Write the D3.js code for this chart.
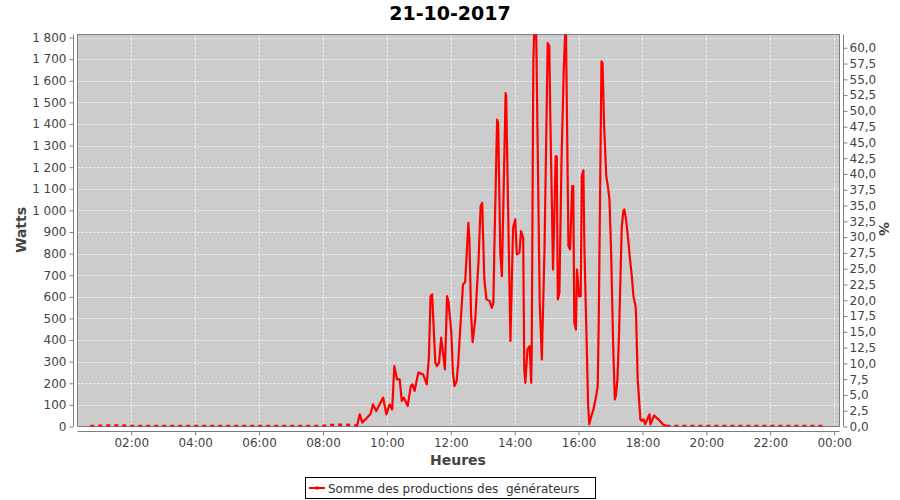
<!DOCTYPE html>
<html><head><meta charset="utf-8">
<script src="https://cdn.jsdelivr.net/npm/d3@7"></script>
<style>html,body{margin:0;padding:0;background:#fff;}svg{display:block;font-family:"DejaVu Sans",sans-serif;}</style>
</head><body>
<svg id="chart" width="900" height="500"></svg>
<script>
const title = "21-10-2017";
const seriesName = "Somme des productions des  générateurs";
const times = ["00:43","01:10","01:30","01:45","02:00","03:00","04:00","05:00","06:00","07:00","08:00","08:15","08:40","09:00",
"09:04","09:09","09:14","09:23","09:29","09:34","09:40","09:51","09:53","09:59","10:05","10:10","10:14","10:19","10:24","10:28","10:32","10:39","10:45","10:48","10:52","10:59","11:08","11:15","11:19","11:22","11:25","11:31","11:34","11:38","11:42","11:49","11:53","11:56",
"12:01","12:04","12:07","12:11","12:14","12:18","12:23","12:27","12:33","12:35","12:38","12:41","12:46","12:49","12:52","12:56","12:59","13:03","13:07","13:13","13:17","13:20","13:22","13:27","13:29","13:33","13:36","13:43","13:44","13:52","13:57",
"14:01","14:04","14:09","14:12","14:16","14:18","14:20","14:24","14:28","14:31","14:32","14:35","14:38","14:40","14:47","14:51","14:56","15:02","15:05","15:07","15:12","15:17","15:19","15:21","15:24","15:28","15:32","15:36","15:41","15:44","15:48","15:50","15:52","15:55","15:57",
"16:01","16:04","16:06","16:09","16:11","16:18","16:20","16:24","16:28","16:33","16:36","16:38","16:41","16:43","16:45","16:48","16:52","16:55","16:58","17:01","17:05","17:08","17:10","17:13","17:16","17:21","17:24","17:26","17:29","17:32","17:36","17:40","17:43","17:47","17:48","17:51","17:54","17:56","17:59",
"18:02","18:05","18:13","18:15","18:22","18:26","18:30","18:38","18:45","20:00","22:00","23:43"];
const watts = [0,2,3,2,0,0,0,0,0,0,0,5,6,3,
0,54,16,39,54,100,69,123,131,54,100,77,277,216,216,116,131,92,185,193,162,247,239,193,324,601,609,293,277,293,409,262,601,570,
432,247,185,208,293,462,655,666,940,863,524,388,493,632,755,1017,1033,678,586,578,547,570,840,1418,1403,802,693,1541,1526,393,917,
956,794,802,902,871,262,200,355,370,200,339,1680,1950,1900,570,308,817,1772,1757,1418,724,1248,1248,586,617,1233,1634,1900,832,817,1110,1110,478,447,724,
600,601,1156,1183,817,92,8,46,77,139,185,509,1218,1687,1680,1387,1156,1110,1048,817,370,123,139,216,432,917,994,1002,956,894,786,693,601,555,509,216,108,31,23,
31,8,54,8,49,39,31,8,0,0,0,0];
const leftTicks = [0,100,200,300,400,500,600,700,800,900,1000,1100,1200,1300,1400,1500,1600,1700,1800];
const rightTicks = [0,2.5,5,7.5,10,12.5,15,17.5,20,22.5,25,27.5,30,32.5,35,37.5,40,42.5,45,47.5,50,52.5,55,57.5,60];
const xLabel = "Heures", yLabel = "Watts", y2Label = "%";

const svg = d3.select("#chart");
const L = 77.5, R = 839.5, T = 34.5, B = 426.5;
const parse = s => { const [h,m] = s.split(":").map(Number); return new Date(2017,9,21,h,m); };
const data = times.map((t,i)=>({t:parse(t), v:watts[i]}));

const x = d3.scaleTime().domain([new Date(2017,9,21,0,19), new Date(2017,9,22,0,10)]).range([L,R]);
const y = d3.scaleLinear().domain([0,1814]).range([B,T]);
const y2 = d3.scaleLinear().domain([0,62.1]).range([B,T]);

svg.append("text").attr("x",450).attr("y",20).attr("text-anchor","middle")
  .attr("font-size",19).attr("font-weight","bold").attr("fill","#000").text(title);

svg.append("rect").attr("x",L).attr("y",T).attr("width",R-L).attr("height",B-T).attr("fill","#cccccc");

const xTicks = d3.timeHour.every(2).range(new Date(2017,9,21,1,0), new Date(2017,9,22,0,30));
// grid
svg.append("g").selectAll("line").data(leftTicks.slice(1)).join("line")
  .attr("x1",L).attr("x2",R).attr("y1",d=>Math.round(y(d))+0.5).attr("y2",d=>Math.round(y(d))+0.5)
  .attr("stroke","#fff").attr("stroke-width",0.8).attr("stroke-dasharray","2,2");
svg.append("g").selectAll("line").data(xTicks).join("line")
  .attr("x1",d=>Math.round(x(d))+0.5).attr("x2",d=>Math.round(x(d))+0.5).attr("y1",T).attr("y2",B)
  .attr("stroke","#fff").attr("stroke-width",0.8).attr("stroke-dasharray","2,2");

svg.append("rect").attr("x",L).attr("y",T).attr("width",R-L).attr("height",B-T).attr("fill","none").attr("stroke","#808080").attr("stroke-width",1);

// clip
svg.append("clipPath").attr("id","clip").append("rect").attr("x",L).attr("y",T).attr("width",R-L).attr("height",B-T);
const line = d3.line().x(d=>x(d.t)).y(d=>y(d.v)-0.5);
const dayStart = times.indexOf("09:00"), dayEnd = times.indexOf("18:45");
const g = svg.append("g").attr("clip-path","url(#clip)");
g.append("path").datum(data.slice(0,dayStart+1)).attr("d",line).attr("fill","none").attr("stroke","#ff0000").attr("stroke-width",2.4).attr("stroke-dasharray","4,4");
g.append("path").datum(data.slice(dayEnd)).attr("d",line).attr("fill","none").attr("stroke","#ff0000").attr("stroke-width",2.4).attr("stroke-dasharray","4,4");
g.append("path").datum(data.slice(dayStart,dayEnd+1)).attr("d",line).attr("fill","none").attr("stroke","#ff0000").attr("stroke-width",2.2).attr("stroke-linejoin","round");

// axes
const axisColor = "#808080", labelColor = "#444";
const ax = svg.append("g").attr("transform","translate(0,431.5)").call(d3.axisBottom(x).tickValues(xTicks).tickFormat(d3.timeFormat("%H:%M")).tickSize(4).tickPadding(3));
ax.select(".domain").attr("d",`M${L},0H${R}`);
const ay = svg.append("g").attr("transform","translate(73.5,0)").call(d3.axisLeft(y).tickValues(leftTicks).tickFormat(d=>d3.format(",")(d).replace(","," ")).tickSize(4).tickPadding(3));
ay.select(".domain").attr("d",`M0,${T}V${B}`);
const ay2 = svg.append("g").attr("transform","translate(843.5,0)").call(d3.axisRight(y2).tickValues(rightTicks).tickFormat(d=>d3.format(".1f")(d).replace(".",",")).tickSize(4).tickPadding(2));
ay2.select(".domain").attr("d",`M0,${T}V${B}`);
[ax,ay,ay2].forEach(a=>{
  a.selectAll("path,line").attr("stroke",axisColor);
  a.selectAll("text").attr("fill",labelColor).attr("font-size",12).attr("font-family","DejaVu Sans");
});

svg.append("text").attr("x",458).attr("y",465).attr("text-anchor","middle").attr("font-size",14).attr("font-weight","bold").attr("fill",labelColor).text(xLabel);
svg.append("text").attr("transform","translate(26,230) rotate(-90)").attr("text-anchor","middle").attr("font-size",14).attr("font-weight","bold").attr("fill",labelColor).text(yLabel);
svg.append("text").attr("transform","translate(879,229) rotate(90)").attr("text-anchor","middle").attr("font-size",14).attr("font-weight","bold").attr("fill",labelColor).text(y2Label);

// legend
const lg = svg.append("g");
lg.append("rect").attr("x",305.5).attr("y",477.5).attr("width",290).attr("height",21).attr("fill","#fff").attr("stroke","#000");
lg.append("line").attr("x1",309).attr("x2",325).attr("y1",488).attr("y2",488).attr("stroke","#ff0000").attr("stroke-width",2);
lg.append("rect").attr("x",315.5).attr("y",486.5).attr("width",3).attr("height",3).attr("fill","#ff0000");
lg.append("text").attr("x",328).attr("y",492.5).attr("font-size",12).attr("fill","#333").attr("xml:space","preserve").style("white-space","pre").text(seriesName);
</script>
</body></html>
